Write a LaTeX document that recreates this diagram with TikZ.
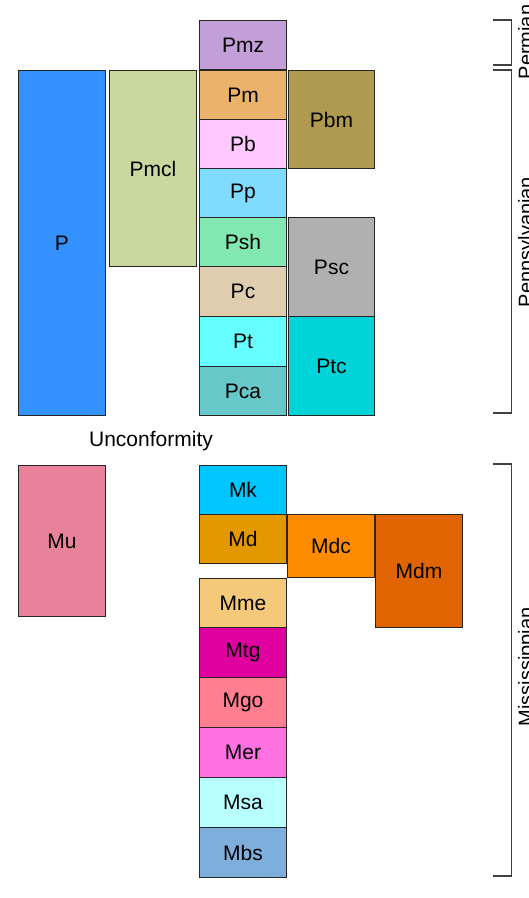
\documentclass[tikz,border=0pt]{standalone}
\usepackage{fontspec}
\setmainfont{Liberation Sans}
\definecolor{cPmz}{HTML}{C39FD7}
\definecolor{cPm}{HTML}{EBB26B}
\definecolor{cPb}{HTML}{FFC8FF}
\definecolor{cPp}{HTML}{80DCFF}
\definecolor{cPsh}{HTML}{80E8B0}
\definecolor{cPc}{HTML}{E0CDB0}
\definecolor{cPt}{HTML}{66FFFF}
\definecolor{cPca}{HTML}{66C8C8}
\definecolor{cPbm}{HTML}{B09A50}
\definecolor{cPsc}{HTML}{B0B0B0}
\definecolor{cPtc}{HTML}{00D4D8}
\definecolor{cP}{HTML}{3392FF}
\definecolor{cPmcl}{HTML}{C8D89E}
\definecolor{cMu}{HTML}{E8829A}
\definecolor{cMk}{HTML}{00C8FF}
\definecolor{cMd}{HTML}{E39800}
\definecolor{cMdc}{HTML}{FF8C00}
\definecolor{cMdm}{HTML}{E06400}
\definecolor{cMme}{HTML}{F5C97A}
\definecolor{cMtg}{HTML}{E000A0}
\definecolor{cMgo}{HTML}{FF7F90}
\definecolor{cMer}{HTML}{FF70E0}
\definecolor{cMsa}{HTML}{B8FFFF}
\definecolor{cMbs}{HTML}{7EAEDC}
\tikzset{
  gbox/.style={draw=black!85, line width=1pt, inner sep=0pt, anchor=north west,
    font=\fontsize{21}{25}\selectfont},
  brk/.style={draw=black!75, line width=1.2pt},
  plabel/.style={rotate=90, anchor=north, inner sep=0pt, font=\fontsize{20}{24}\selectfont}
}
\newcommand\gb[6]{\node[gbox, fill=c#1, minimum width=#4pt, minimum height=#5pt] (#1) at (#2,#3) {#6};}
\begin{document}
\begin{tikzpicture}[x=1pt,y=-1pt]
\useasboundingbox (0,0) rectangle (529,898);
% Pennsylvanian / Permian
\gb{P}{18}{70}{87}{345}{P}
\gb{Pmcl}{109}{70}{87}{196}{Pmcl}
\gb{Pmz}{199}{20}{87}{49}{Pmz}
\gb{Pm}{199}{70}{87}{49}{Pm}
\gb{Pb}{199}{119}{87}{49}{Pb}
\gb{Pp}{199}{168}{87}{49}{Pp}
\gb{Psh}{199}{217}{87}{49}{Psh}
\gb{Pc}{199}{266}{87}{50}{Pc}
\gb{Pt}{199}{316}{87}{50}{Pt}
\gb{Pca}{199}{366}{87}{49}{Pca}
\gb{Pbm}{288}{70}{86}{98}{Pbm}
\gb{Psc}{288}{217}{86}{99}{Psc}
\gb{Ptc}{288}{316}{86}{99}{Ptc}
% Unconformity
\node[font=\fontsize{21}{25}\selectfont, inner sep=0pt] (unc) at (151,441) {Unconformity};
% Mississippian
\gb{Mu}{18}{465}{87}{151}{Mu}
\gb{Mk}{199}{465}{87}{49}{Mk}
\gb{Md}{199}{514}{87}{49}{Md}
\gb{Mdc}{287}{514}{87}{63}{Mdc}
\gb{Mdm}{375}{514}{87}{113}{Mdm}
\gb{Mme}{199}{578}{87}{49}{Mme}
\gb{Mtg}{199}{627}{87}{50}{Mtg}
\gb{Mgo}{199}{677}{87}{50}{Mgo}
\gb{Mer}{199}{727}{87}{50}{Mer}
\gb{Msa}{199}{777}{87}{50}{Msa}
\gb{Mbs}{199}{827}{87}{50}{Mbs}
% brackets
\draw[brk] (493,20) -- (511.5,20) -- (511.5,65) -- (493,65);
\draw[brk] (493,70) -- (511.5,70) -- (511.5,413) -- (493,413);
\draw[brk] (493,464) -- (511.5,464) -- (511.5,876) -- (493,876);
\node[plabel] (perm) at (518,42) {Permian};
\node[plabel] (penn) at (518,242) {Pennsylvanian};
\node[plabel] (miss) at (518,667) {Mississippian};
\end{tikzpicture}
\end{document}
